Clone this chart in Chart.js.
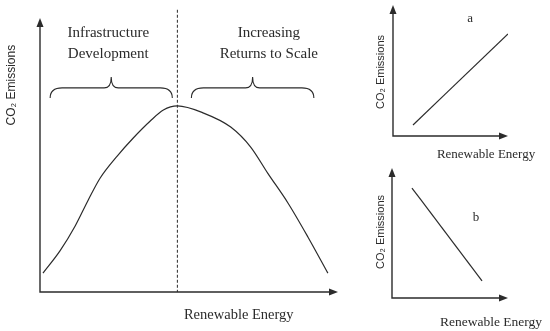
<!DOCTYPE html>
<html>
<head>
<meta charset="utf-8">
<script src="https://cdn.jsdelivr.net/npm/chart.js@4.4.1/dist/chart.umd.min.js"></script>
<style>
    html, body { margin: 0; padding: 0; background: #fff; }
    #wrap { position: relative; width: 550px; height: 331px; }
    .box { position: absolute; }
</style>
</head>
<body>
<div id="wrap">
    <div class="box" style="left:0;top:0;width:350px;height:331px"><canvas id="main-chart"></canvas></div>
    <div class="box" style="left:365px;top:0;width:185px;height:165px"><canvas id="chart-a"></canvas></div>
    <div class="box" style="left:365px;top:160px;width:185px;height:171px"><canvas id="chart-b"></canvas></div>
</div>
<script>
// main curve (renewable energy vs CO2 emissions, arbitrary 0-100 units)
const renewableMain = [1.0, 6.7, 11.8, 16.2, 20.2, 25.9, 31.3, 37.0, 41.4, 46.1, 54.9, 64.0, 70.7, 76.4, 83.2, 89.9, 96.6];
const emissionsMain = [6.9, 15.0, 24.1, 33.6, 41.6, 49.6, 56.2, 62.4, 66.4, 67.9, 65.3, 60.2, 52.9, 43.4, 32.5, 20.1, 6.9];

// panel a (rising) and panel b (falling)
const renewableA = [17.4, 100];
const emissionsA = [8.4, 77.9];
const renewableB = [17.2, 77.6];
const emissionsB = [84.6, 13.1];

const turningPoint = 46.1;
const phaseLabels = [['Infrastructure', 'Development'], ['Increasing', 'Returns to Scale']];
const phaseSpans = [[3.4, 44.4], [50.8, 91.9]];
const xTitle = 'Renewable Energy';
const yTitle = 'CO\u2082 Emissions';
const panelLetters = ['a', 'b'];

const INK = '#2b2b2b';
const SERIF = '"Liberation Serif", "DejaVu Serif", serif';
const SANS = '"Liberation Sans", Arial, sans-serif';

function toPoints(xs, ys) {
    return xs.map((x, i) => ({ x: x, y: ys[i] }));
}

function drawArrowAxes(ctx, area) {
    ctx.save();
    ctx.strokeStyle = INK;
    ctx.fillStyle = INK;
    ctx.lineWidth = 1.4;
    ctx.beginPath();
    ctx.moveTo(area.left, area.top + 6);
    ctx.lineTo(area.left, area.bottom);
    ctx.lineTo(area.right - 6, area.bottom);
    ctx.stroke();
    // arrow heads
    ctx.beginPath();
    ctx.moveTo(area.left, area.top);
    ctx.lineTo(area.left - 3.5, area.top + 9);
    ctx.lineTo(area.left + 3.5, area.top + 9);
    ctx.closePath();
    ctx.fill();
    ctx.beginPath();
    ctx.moveTo(area.right, area.bottom);
    ctx.lineTo(area.right - 9, area.bottom - 3.5);
    ctx.lineTo(area.right - 9, area.bottom + 3.5);
    ctx.closePath();
    ctx.fill();
    ctx.restore();
}

function drawText(ctx, chart, item) {
    const xs = chart.scales.x, ys = chart.scales.y;
    const px = xs.getPixelForValue(item.x);
    const py = ys.getPixelForValue(item.y);
    ctx.save();
    ctx.fillStyle = INK;
    ctx.font = item.font;
    ctx.textAlign = 'center';
    ctx.textBaseline = 'middle';
    ctx.translate(px, py);
    if (item.rotate) ctx.rotate(-Math.PI / 2);
    ctx.fillText(item.text, 0, 0);
    ctx.restore();
}

function drawBrace(ctx, chart, x1, x2, yEnd, yMid, yTip) {
    const xs = chart.scales.x, ys = chart.scales.y;
    const a = xs.getPixelForValue(x1);
    const b = xs.getPixelForValue(x2);
    const m = (a + b) / 2;
    const e = ys.getPixelForValue(yEnd);
    const h = ys.getPixelForValue(yMid);
    const t = ys.getPixelForValue(yTip);
    const r = 12, c = 7;
    ctx.save();
    ctx.strokeStyle = INK;
    ctx.lineWidth = 1.1;
    ctx.beginPath();
    ctx.moveTo(a, e);
    ctx.quadraticCurveTo(a, h, a + r, h);
    ctx.lineTo(m - c, h);
    ctx.quadraticCurveTo(m, h, m, t);
    ctx.quadraticCurveTo(m, h, m + c, h);
    ctx.lineTo(b - r, h);
    ctx.quadraticCurveTo(b, h, b, e);
    ctx.stroke();
    ctx.restore();
}

const sketchPlugin = {
    id: 'sketch',
    afterDraw(chart, args, opts) {
        const ctx = chart.ctx;
        drawArrowAxes(ctx, chart.chartArea);
        if (opts.divider !== undefined) {
            const px = chart.scales.x.getPixelForValue(opts.divider);
            ctx.save();
            ctx.strokeStyle = INK;
            ctx.lineWidth = 1;
            ctx.setLineDash([3, 2]);
            ctx.beginPath();
            ctx.moveTo(px, chart.scales.y.getPixelForValue(103));
            ctx.lineTo(px, chart.chartArea.bottom);
            ctx.stroke();
            ctx.restore();
        }
        (opts.braces || []).forEach(br => drawBrace(ctx, chart, br[0], br[1], 70.8, 74.5, 78.5));
        (opts.texts || []).forEach(item => drawText(ctx, chart, item));
    }
};

function makeChart(id, xs, ys, padding, pluginOpts) {
    return new Chart(document.getElementById(id), {
        type: 'line',
        data: {
            datasets: [{
                data: toPoints(xs, ys),
                borderColor: INK,
                borderWidth: 1.2,
                pointRadius: 0,
                cubicInterpolationMode: 'monotone',
                fill: false
            }]
        },
        options: {
            responsive: true,
            maintainAspectRatio: false,
            animation: false,
            layout: { padding: padding },
            plugins: {
                legend: { display: false },
                tooltip: { enabled: false },
                sketch: pluginOpts
            },
            scales: {
                x: { type: 'linear', min: 0, max: 100, display: false },
                y: { type: 'linear', min: 0, max: 100, display: false }
            }
        },
        plugins: [sketchPlugin]
    });
}

makeChart('main-chart', renewableMain, emissionsMain,
    { left: 40, right: 12, top: 18, bottom: 39 },
    {
        divider: turningPoint,
        braces: phaseSpans,
        texts: [
            { text: phaseLabels[0][0], x: 22.9, y: 94.5, font: '15px ' + SERIF },
            { text: phaseLabels[0][1], x: 22.9, y: 86.9, font: '15px ' + SERIF },
            { text: phaseLabels[1][0], x: 76.8, y: 94.5, font: '15px ' + SERIF },
            { text: phaseLabels[1][1], x: 76.8, y: 86.9, font: '15px ' + SERIF },
            { text: xTitle, x: 66.7, y: -8.4, font: '14.5px ' + SERIF },
            { text: yTitle, x: -9.4, y: 75.5, font: '12px ' + SANS, rotate: true }
        ]
    });

makeChart('chart-a', renewableA, emissionsA,
    { left: 28, right: 42, top: 5, bottom: 29 },
    {
        texts: [
            { text: panelLetters[0], x: 67, y: 90, font: '13px ' + SERIF },
            { text: xTitle, x: 80.9, y: -14.5, font: '13px ' + SERIF },
            { text: yTitle, x: -10.4, y: 48.9, font: '11px ' + SANS, rotate: true }
        ]
    });

makeChart('chart-b', renewableB, emissionsB,
    { left: 27, right: 42, top: 8, bottom: 33 },
    {
        texts: [
            { text: panelLetters[1], x: 72.4, y: 61.5, font: '13px ' + SERIF },
            { text: xTitle, x: 85.3, y: -18.5, font: '13.5px ' + SERIF },
            { text: yTitle, x: -9.5, y: 50.8, font: '11px ' + SANS, rotate: true }
        ]
    });
</script>
</body>
</html>
